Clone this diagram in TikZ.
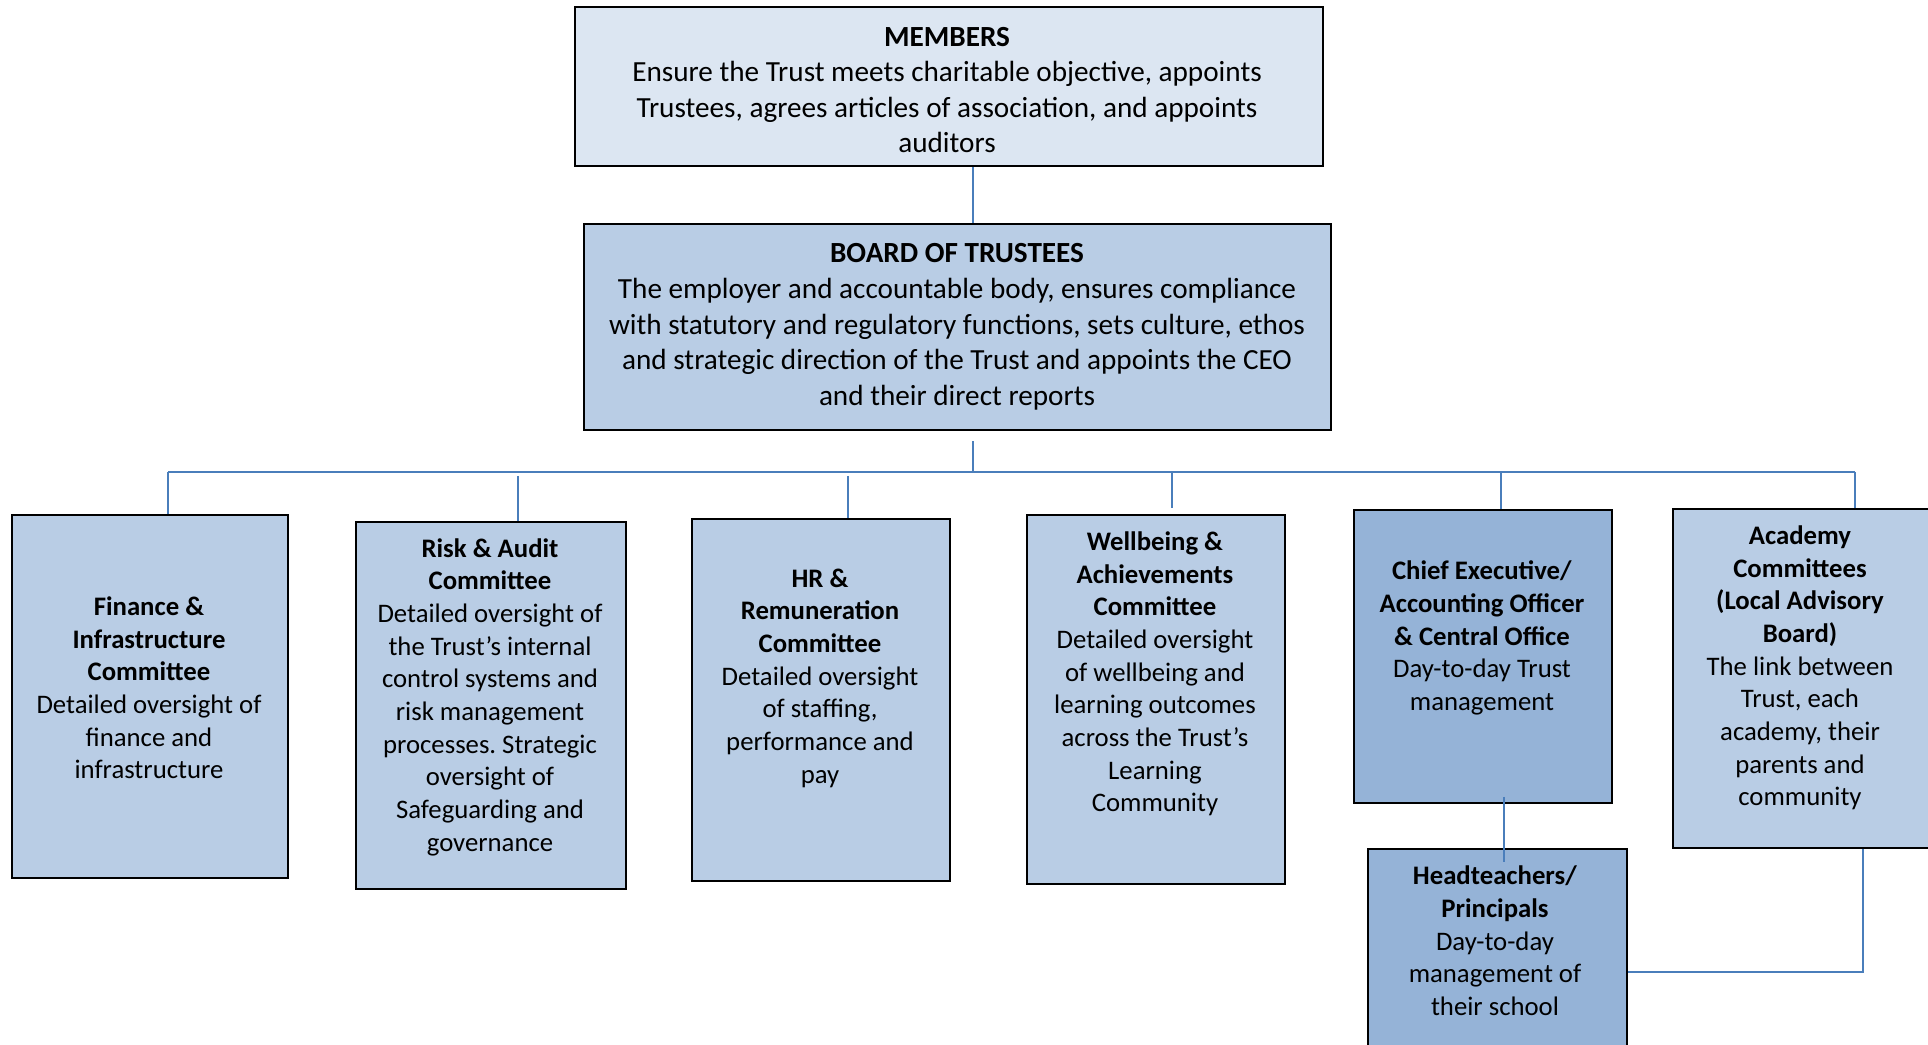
\documentclass[tikz,border=0pt]{standalone}
\usepackage{fontspec}
\setmainfont{Carlito}
\usetikzlibrary{positioning}
\definecolor{paleblue}{HTML}{DCE6F2}
\definecolor{midblue}{HTML}{B9CDE5}
\definecolor{deepblue}{HTML}{95B3D7}
\definecolor{linkblue}{HTML}{4A7EBB}
\newcommand{\bigtxt}{\fontsize{8.31}{10.14}\selectfont}
\newcommand{\smalltxt}{\fontsize{7.61}{9.29}\selectfont}
\frenchspacing
\begin{document}
\begin{tikzpicture}[x=0.1mm, y=-0.1mm, line join=miter,
	unit/.style={draw=black, line width=0.6pt, anchor=north west, inner sep=0pt, fill=midblue},
	blurb/.style={align=center, inner sep=0pt, font=\smalltxt},
	link/.style={draw=linkblue, line width=0.65pt}]
	\useasboundingbox (0,0) rectangle (1928,1045);
	\clip (0,0) rectangle (1928,1045);
	% boxes
	\node[unit, fill=paleblue, minimum width=74.8mm, minimum height=15.9mm] (mem) at (574,6) {};
	\node[unit, minimum width=74.7mm, minimum height=20.6mm] (brd) at (583,223) {};
	\node[unit, minimum width=27.6mm, minimum height=36.3mm] (fin) at (11,514) {};
	\node[unit, minimum width=27.0mm, minimum height=36.7mm] (risk) at (355,521) {};
	\node[unit, minimum width=25.8mm, minimum height=36.2mm] (hr) at (691,518) {};
	\node[unit, minimum width=25.8mm, minimum height=36.9mm] (wb) at (1026,514) {};
	\node[unit, fill=deepblue, minimum width=25.8mm, minimum height=29.3mm] (ceo) at (1353,509) {};
	\node[unit, minimum width=26.0mm, minimum height=33.9mm] (acad) at (1672,508) {};
	\node[unit, fill=deepblue, minimum width=25.9mm, minimum height=21.2mm] (head) at (1367,848) {};
	% texts
	\node[blurb, font=\bigtxt] (memtxt) at (947,90) {\textbf{MEMBERS}\\Ensure the Trust meets charitable objective, appoints\\Trustees, agrees articles of association, and appoints\\auditors};
	\node[blurb, font=\bigtxt] (brdtxt) at (957,327) {\textbf{BOARD OF TRUSTEES}\\The employer and accountable body, ensures compliance\\with statutory and regulatory functions, sets culture, ethos\\and strategic direction of the Trust and appoints the CEO\\and their direct reports};
	\node[blurb] (fintxt) at (149,688) {\textbf{Finance \&}\\\textbf{Infrastructure}\\\textbf{Committee}\\Detailed oversight of\\finance and\\infrastructure};
	\node[blurb] (risktxt) at (490,697) {\textbf{Risk \& Audit}\\\textbf{Committee}\\Detailed oversight of\\the Trust’s internal\\control systems and\\risk management\\processes. Strategic\\oversight of\\Safeguarding and\\governance};
	\node[blurb] (hrtxt) at (820,678) {\textbf{HR \&}\\\textbf{Remuneration}\\\textbf{Committee}\\Detailed oversight\\of staffing,\\performance and\\pay};
	\node[blurb] (wbtxt) at (1155,674) {\textbf{Wellbeing \&}\\\textbf{Achievements}\\\textbf{Committee}\\Detailed oversight\\of wellbeing and\\learning outcomes\\across the Trust’s\\Learning\\Community};
	\node[blurb] (ceotxt) at (1482,638) {\textbf{Chief Executive/}\\\textbf{Accounting Officer}\\\textbf{\& Central Office}\\Day-to-day Trust\\management};
	\node[blurb] (acadtxt) at (1800,668) {\textbf{Academy}\\\textbf{Committees}\\\textbf{(Local Advisory}\\\textbf{Board)}\\The link between\\Trust, each\\academy, their\\parents and\\community};
	\node[blurb] (headtxt) at (1495,941) {\textbf{Headteachers/}\\\textbf{Principals}\\Day-to-day\\management of\\their school};
	% connectors
	\coordinate (bus) at (973,472);
	\coordinate (busl) at (168,472);
	\coordinate (busr) at (1855,472);
	\coordinate (stem) at (1504,797);
	\coordinate (hook) at (1863,972);
	\draw[link] (mem.south -| bus) -- (brd.north -| bus);
	\draw[link] ([yshift=-1mm]brd.south -| bus) -- (bus);
	\draw[link] (busl) -- (busr);
	\foreach \xx/\yy/\nd/\cut in {168/472/fin/0pt, 518/476/risk/0pt, 848/476/hr/0pt, 1172/472/wb/0.6mm, 1501/472/ceo/0pt, 1855/472/acad/0pt}{
		\coordinate (drop) at (\xx,\yy);
		\draw[link, shorten >=\cut] (drop) -- (drop |- \nd.north);
	}
	\draw[link, shorten >=-1.4mm] (stem) -- (stem |- head.north);
	\draw[link] (head.east |- hook) -- (hook) -- (hook |- acad.south);
\end{tikzpicture}
\end{document}
